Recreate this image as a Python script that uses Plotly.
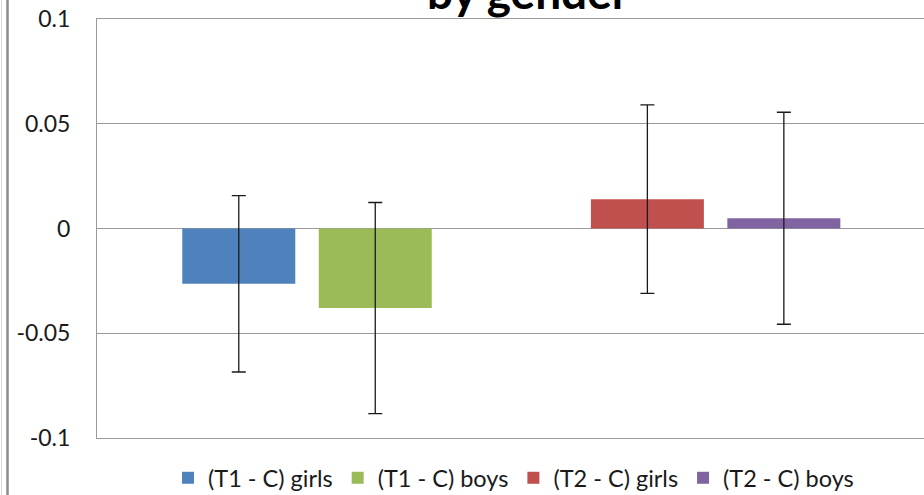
import plotly.graph_objects as go

# ---- data ----
categories = ["T1 - C", "T2 - C"]
series_names = ["(T1 - C) girls", "(T1 - C) boys", "(T2 - C) girls", "(T2 - C) boys"]
series_cat = ["T1 - C", "T1 - C", "T2 - C", "T2 - C"]
series_group = ["girls", "boys", "girls", "boys"]
series_values = [-0.0264, -0.0380, 0.0140, 0.0049]
series_errors = [0.0421, 0.0504, 0.0450, 0.0506]
series_colors = ["#4F81BD", "#9BBB59", "#C0504D", "#8064A2"]
y_tickvals = [0.1, 0.05, 0, -0.05, -0.1]
y_ticktext = ["0.1", "0.05", "0", "-0.05", "-0.1"]
title_text = "by gender"

FONT = "Lato"

fig = go.Figure()
for name, cat, grp, val, err, col in zip(series_names, series_cat, series_group,
                                         series_values, series_errors, series_colors):
    fig.add_trace(go.Bar(
        x=[cat], y=[val], name=name, offsetgroup=grp,
        marker=dict(color=col, line=dict(width=0)),
        error_y=dict(type="data", array=[err], visible=True,
                     color="#1a1a1a", thickness=1.3, width=7),
    ))

W, H = 924, 495
ml, mr, mt, mb = 97, 0, 19, 57
pw, ph = W - ml - mr, H - mt - mb

def px_x(px):
    return (px - ml) / pw

def px_y(py):
    return (H - mb - py) / ph

fig.update_layout(
    width=W, height=H,
    margin=dict(l=ml, r=mr, t=mt, b=mb, pad=0, autoexpand=False),
    paper_bgcolor="white", plot_bgcolor="white",
    barmode="group", bargap=0.332, bargroupgap=0.172,
    font=dict(family=FONT, size=23, color="#1a1a1a"),
    showlegend=True,
    legend=dict(orientation="h", xref="container", yref="container",
                x=168 / W, xanchor="left",
                y=1 - 478 / H, yanchor="middle",
                font=dict(family=FONT, size=23.5, color="#1a1a1a"),
                traceorder="normal", itemclick=False,
                bgcolor="rgba(0,0,0,0)"),
    xaxis=dict(type="category", categoryorder="array", categoryarray=categories,
               range=[-0.514, 1.51], showticklabels=False, showgrid=False,
               zeroline=False, showline=True, mirror=True, linecolor="#9a9a9a",
               linewidth=1, ticks="", automargin=False),
    yaxis=dict(range=[-0.1, 0.1], tickvals=y_tickvals, ticktext=y_ticktext,
               showgrid=True, gridcolor="#9a9a9a", gridwidth=1,
               zeroline=False, showline=True, linecolor="#9a9a9a", linewidth=1,
               ticks="", ticklabelstandoff=21, automargin=False,
               tickfont=dict(family=FONT, size=23, color="#1a1a1a")),
    annotations=[dict(text="<b>" + title_text + "</b>", xref="paper", yref="paper",
                      x=px_x(528), y=px_y(21), xanchor="center", yanchor="bottom",
                      showarrow=False, font=dict(family=FONT, size=46, color="#000000"))],
    shapes=[
        dict(type="line", xref="paper", yref="paper", x0=px_x(7.5), x1=px_x(7.5),
             y0=px_y(H + 5), y1=px_y(-5), line=dict(color="#8c8c8c", width=2.5)),
        dict(type="line", xref="paper", yref="paper", x0=px_x(1.5), x1=px_x(1.5),
             y0=px_y(H + 5), y1=px_y(-5), line=dict(color="#d8d8d8", width=1)),
    ],
)

fig.write_html("out.html", config={"displayModeBar": False},
               post_script="document.body.style.margin='0px';")
